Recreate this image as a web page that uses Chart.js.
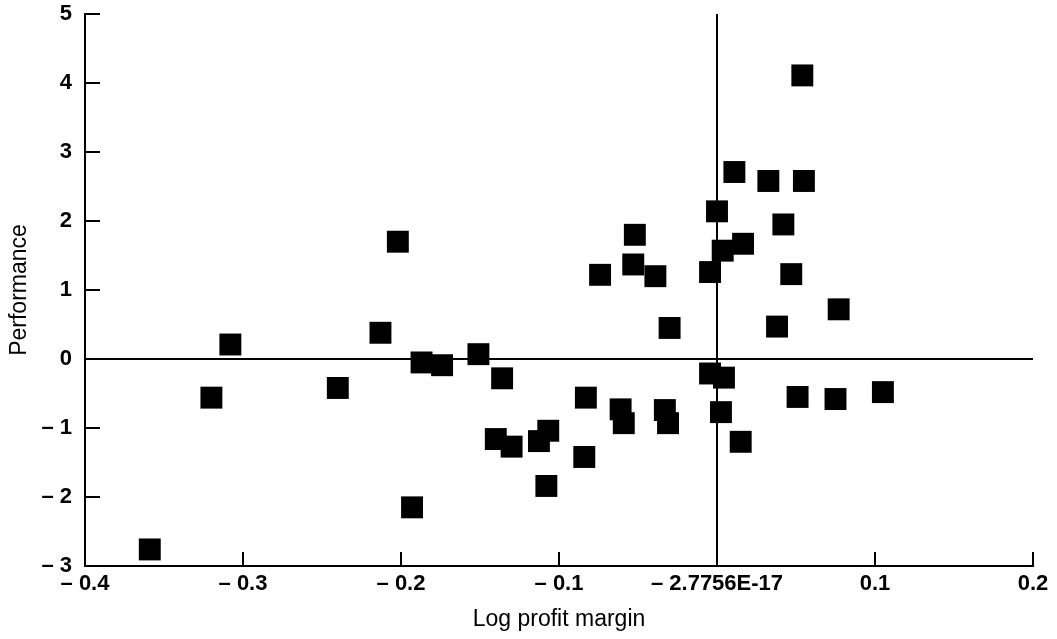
<!DOCTYPE html>
<html>
<head>
<meta charset="utf-8">
<script src="https://cdn.jsdelivr.net/npm/chart.js@4.4.1/dist/chart.umd.min.js"></script>
<style>
  html, body { margin: 0; padding: 0; background: #fff; }
  #wrap { width: 1057px; height: 639px; }
</style>
</head>
<body>
<div id="wrap"><canvas id="c" width="1057" height="639"></canvas></div>
<script>
// Log profit margin (x) and Performance (y)
const logProfitMargin = [
  -0.359, -0.320, -0.308, -0.240, -0.213, -0.202, -0.187, -0.174, -0.151, -0.193,
  -0.136, -0.052, -0.074, -0.053, -0.039, -0.030, 0.000, 0.0036, 0.0165, -0.0044,
  0.011, 0.0325, 0.055, 0.054, 0.042, 0.047, 0.038, 0.077, -0.0044, 0.0044,
  0.0025, 0.015, 0.051, 0.075, 0.105, -0.083, -0.061, -0.059, -0.033, -0.031,
  -0.140, -0.130, -0.1127, -0.1068, -0.084, -0.108
];
const performance = [
  -2.76, -0.56, 0.21, -0.42, 0.38, 1.70, -0.05, -0.09, 0.07, -2.15,
  -0.28, 1.80, 1.22, 1.37, 1.20, 0.45, 2.14, 1.57, 1.67, 1.26,
  2.71, 2.58, 2.58, 4.11, 1.95, 1.23, 0.47, 0.72, -0.21, -0.27,
  -0.77, -1.20, -0.55, -0.58, -0.48, -0.56, -0.73, -0.93, -0.74, -0.93,
  -1.16, -1.27, -1.19, -1.04, -1.42, -1.84
];
const xTickLabels = ['\u2013 0.4', '\u2013 0.3', '\u2013 0.2', '\u2013 0.1', '\u2013 2.7756E-17', '0.1', '0.2'];
const yTickLabels = ['\u2013 3', '\u2013 2', '\u2013 1', '0', '1', '2', '3', '4', '5'];

const points = logProfitMargin.map((x, i) => ({ x: x, y: performance[i] }));

const inwardTicks = {
  id: 'inwardTicks',
  afterDraw(chart) {
    const ctx = chart.ctx;
    const xs = chart.scales.x, ys = chart.scales.y;
    const area = chart.chartArea;
    ctx.save();
    ctx.strokeStyle = '#000';
    ctx.lineWidth = 2;
    xs.ticks.forEach(t => {
      const px = xs.getPixelForValue(t.value);
      ctx.beginPath();
      ctx.moveTo(px, area.bottom);
      ctx.lineTo(px, area.bottom - 14);
      ctx.stroke();
    });
    ys.ticks.forEach(t => {
      const py = ys.getPixelForValue(t.value);
      ctx.beginPath();
      ctx.moveTo(area.left, py);
      ctx.lineTo(area.left + 15, py);
      ctx.stroke();
    });
    ctx.restore();
  }
};

const zeroColor = (c) => (c.tick && Math.abs(c.tick.value) < 1e-9) ? '#000' : 'rgba(0,0,0,0)';
const FAMILY = 'Liberation Sans, Arial, Helvetica, sans-serif';

new Chart(document.getElementById('c'), {
  type: 'scatter',
  data: {
    datasets: [{
      data: points,
      pointStyle: 'rect',
      pointRadius: 15.5,
      pointHoverRadius: 15.5,
      backgroundColor: '#000',
      borderColor: '#000',
      borderWidth: 0
    }]
  },
  options: {
    responsive: false,
    animation: false,
    events: [],
    layout: { autoPadding: false, padding: { top: 14, right: 24, left: 0, bottom: 0 } },
    plugins: { legend: { display: false }, tooltip: { enabled: false } },
    scales: {
      x: {
        type: 'linear',
        min: -0.4, max: 0.2,
        afterFit(s) { s.height = 73; },
        ticks: {
          stepSize: 0.1,
          autoSkip: false,
          maxRotation: 0,
          padding: 5,
          color: '#000',
          font: { family: FAMILY, size: 22, weight: 'bold' },
          callback: (v, i) => xTickLabels[i]
        },
        grid: { drawTicks: false, color: zeroColor, lineWidth: 2 },
        border: { display: true, color: '#000', width: 2 },
        title: {
          display: true,
          text: 'Log profit margin',
          color: '#000',
          font: { family: FAMILY, size: 23 },
          padding: { top: 0, bottom: 6 }
        }
      },
      y: {
        type: 'linear',
        min: -3, max: 5,
        afterFit(s) { s.width = 85; },
        ticks: {
          stepSize: 1,
          autoSkip: false,
          padding: 13,
          color: '#000',
          font: { family: FAMILY, size: 22, weight: 'bold', lineHeight: 0.05 },
          callback: (v, i) => yTickLabels[i]
        },
        grid: { drawTicks: false, color: zeroColor, lineWidth: 2 },
        border: { display: true, color: '#000', width: 2 },
        title: {
          display: true,
          text: 'Performance',
          color: '#000',
          font: { family: FAMILY, size: 23 },
          padding: { top: 6, bottom: 0 }
        }
      }
    }
  },
  plugins: [inwardTicks]
});
</script>
</body>
</html>
